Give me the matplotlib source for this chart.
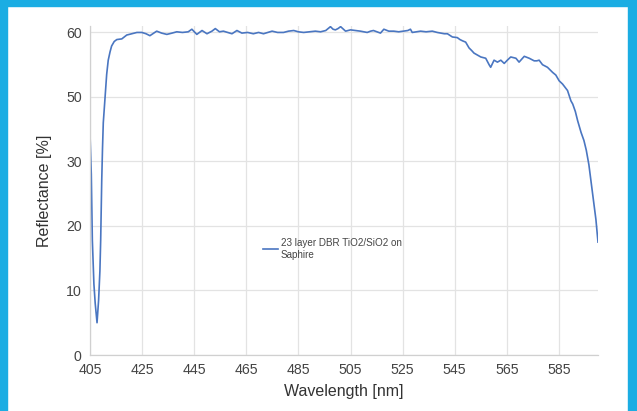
import numpy as np
import matplotlib
matplotlib.use("Agg")
import matplotlib.pyplot as plt
from matplotlib.patches import Rectangle

plt.rcParams["font.family"] = ["Liberation Sans", "DejaVu Sans"]

# measured reflectance of the DBR stack
wavelength = [
    405, 405.5, 405.9, 406.5, 407, 407.7, 408.3, 408.8, 409.1, 409.5, 409.8,
    410.1, 410.8, 411.4, 412.0, 412.7, 413.3, 414.3, 415.3, 417.2, 419.1,
    421, 423, 424.9, 426.5, 428, 429.5, 430.6, 432.5, 434.5, 436.5, 438.3,
    440.5, 442.7, 444.1, 446, 448, 449.9, 451.8, 453.1, 454.7, 456.2, 457.8,
    459.5, 461.4, 463.3, 465.5, 467.7, 469.7, 471.6, 473.3, 474.9, 477,
    479.3, 481.2, 483.2, 485, 487, 489.3, 491.5, 493.5, 495.5, 497.3, 498.3,
    499.2, 500.2, 501.2, 503.1, 505, 506.9, 508.8, 510.2, 511.4, 512.7,
    513.8, 516.5, 517.8, 519.7, 521.6, 523.5, 525.4, 527, 528, 528.7, 530.3,
    531.9, 534, 536.4, 538.3, 539.6, 541, 542.2, 544.1, 546, 547, 548, 549.2,
    550.5, 551.5, 552.4, 553.7, 555, 556.9, 558.2, 558.8, 560.1, 561.4,
    562.7, 564, 565.2, 566.5, 568.5, 569.7, 571.7, 573.6, 575.5, 576.5,
    577.4, 578.7, 580.6, 582.6, 583.8, 585.1, 586.4, 588.3, 589.6, 590.3,
    591.3, 592.2, 593.5, 594.6, 595.5, 596.5, 597.3, 598, 599.2, 600,
]
reflectance = [
    38.5, 28, 17.8, 11, 8, 5, 8.5, 13, 17.8, 27, 34,
    42, 50, 53.5, 55.7, 57, 57.9, 58.6, 58.9, 59.0, 59.6,
    59.8, 60.0, 60.0, 59.8, 59.5, 59.9, 60.2, 59.9, 59.7, 59.9, 60.1,
    60.0, 60.1, 60.5, 59.7, 60.3, 59.8, 60.2, 60.6, 60.1, 60.2, 60.0,
    59.8, 60.3, 59.9, 60.0, 59.8, 60.0, 59.8, 60.0, 60.2, 60.0,
    60.0, 60.2, 60.3, 60.1, 60.0, 60.1, 60.2, 60.1, 60.3, 60.9, 60.5,
    60.4, 60.6, 60.9, 60.2, 60.4, 60.3, 60.2, 60.1, 60.0, 60.2,
    60.3, 59.9, 60.5, 60.2, 60.2, 60.1, 60.2, 60.3, 60.5, 60.0, 60.1,
    60.2, 60.1, 60.2, 60.0, 59.9, 59.8, 59.8, 59.3, 59.2, 58.9, 58.7, 58.5,
    57.6, 57.2, 56.8, 56.5, 56.2, 56.0, 55.0, 54.6, 55.7, 55.4,
    55.7, 55.2, 55.7, 56.2, 56.0, 55.4, 56.3, 56.0, 55.6, 55.6,
    55.7, 55.0, 54.6, 53.8, 53.4, 52.5, 52.0, 51.0, 48.8, 47.8,
    45.5, 42.6, 39.0, 36.5, 33.5, 29.5, 27.0, 24.8, 21.0, 17.5,
]

x_ticks = [405, 425, 445, 465, 485, 505, 525, 545, 565, 585]
y_ticks = [0, 10, 20, 30, 50, 60]
series_label = "23 layer DBR TiO2/SiO2 on\nSaphire"


# y axis: 30-50 squeezed into one grid step
def squash(v):
    v = np.asarray(v, dtype=float)
    return np.where(v <= 30, v, np.where(v <= 50, 30 + (v - 30) / 2, 40 + (v - 50)))


def unsquash(t):
    t = np.asarray(t, dtype=float)
    return np.where(t <= 30, t, np.where(t <= 40, 30 + (t - 30) * 2, 50 + (t - 40)))


fig = plt.figure(figsize=(6.37, 4.11), dpi=100)
ax = fig.add_axes([90 / 637, 56 / 411, 508 / 637, 329 / 411])

ax.plot(wavelength, reflectance, color="#4a76c1", lw=1.2, label=series_label)

ax.set_yscale("function", functions=(squash, unsquash))
ax.set_xlim(405, 600)
ax.set_ylim(0, 61)
ax.set_xticks(x_ticks)
ax.set_yticks(y_ticks)
ax.set_yticks([], minor=True)
ax.set_yticklabels([str(v) for v in y_ticks])

ax.grid(True, color="#e3e3e3", lw=0.9)
ax.set_axisbelow(True)
for side in ["top", "right"]:
    ax.spines[side].set_visible(False)
for side in ["left", "bottom"]:
    ax.spines[side].set_color("#d0d0d0")
    ax.spines[side].set_linewidth(0.9)
ax.tick_params(length=0, labelsize=10.2, colors="#444444", pad=6)

ax.set_xlabel("Wavelength [nm]", fontsize=11.5, color="#333333", labelpad=5)
ax.set_ylabel("Reflectance [%]", fontsize=11.5, color="#333333", labelpad=10)

leg = ax.legend(loc="upper left", bbox_to_anchor=((263 - 90) / 508, (355 - 238) / 329),
                frameon=False, fontsize=7.1, handlelength=1.5, handletextpad=0.3,
                borderpad=0, borderaxespad=0)
for t in leg.get_texts():
    t.set_color("#444444")

# blue frame around the card
frame = "#1bade3"
fig.patches.append(Rectangle((0, 0), 7 / 637, 1, transform=fig.transFigure, color=frame))
fig.patches.append(Rectangle((1 - 9 / 637, 0), 9 / 637, 1, transform=fig.transFigure, color=frame))
fig.patches.append(Rectangle((0, 1 - 6 / 411), 1, 6 / 411, transform=fig.transFigure, color=frame))

fig.savefig("out.png", dpi=100)
